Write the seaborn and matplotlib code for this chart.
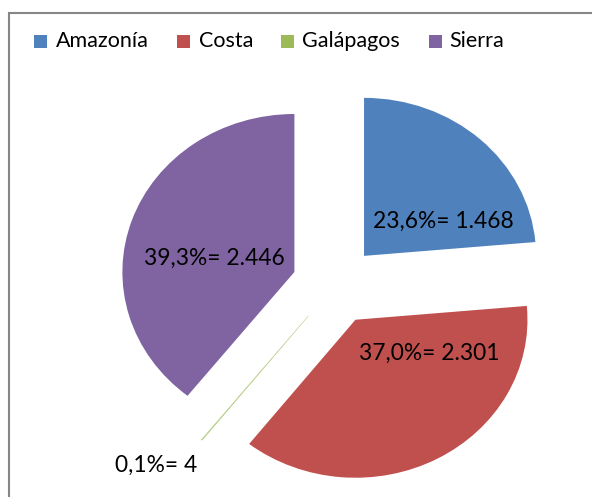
import matplotlib
matplotlib.use("Agg")
import matplotlib.pyplot as plt
import seaborn as sns
from matplotlib.patches import Rectangle

sns.set_theme(style="white")
plt.rcParams['font.family'] = ['Lato', 'DejaVu Sans']

regions = ["Amazonía", "Costa", "Galápagos", "Sierra"]
values = [1468, 2301, 4, 2446]
labels = ["23,6%= 1.468", "37,0%= 2.301", "0,1%= 4", "39,3%= 2.446"]
colors = ["#4F81BD", "#C0504D", "#9BBB59", "#8064A2"]
explode = [0.25, 0.25, 0.25, 0.25]
label_pos = [(0.63, 0.40), (0.55, -0.43), (-1.04, -1.14), (-0.70, 0.17)]

W, H = 592, 497
fig = plt.figure(figsize=(W / 100, H / 100), dpi=100)
ax = fig.add_axes([0, 0, 1, 1])

wedges, _ = ax.pie(values, colors=colors, explode=explode, startangle=90,
                   counterclock=False, wedgeprops=dict(linewidth=0))
wedges[2].set_edgecolor("#B9CF8A")
wedges[2].set_linewidth(0.4)

cx, cy, rx, ry = 335, 285, 172, 158
xmin = -cx / rx
ymin = -(H - cy) / ry
ax.set_aspect('auto')
ax.set_xlim(xmin, xmin + W / rx)
ax.set_ylim(ymin, ymin + H / ry)
ax.axis('off')

for (x, y), t in zip(label_pos, labels):
    ax.text(x, y, t, ha='center', va='center', fontsize=16.4, color='black')

# chart border
fig.patches.append(Rectangle((9 / W, -0.05), 1.2, (H - 13) / H + 0.05,
                             transform=fig.transFigure, fill=False,
                             edgecolor='#868686', linewidth=1.5))

# legend (manual, Excel-like layout)
sq_x = [34, 177, 281, 429]
txt_x = [56, 199, 302, 449]
leg_y = 41
for c, r, sx, tx in zip(colors, regions, sq_x, txt_x):
    fig.patches.append(Rectangle((sx / W, 1 - (leg_y + 6.5) / H), 13 / W, 13 / H,
                                 transform=fig.transFigure, facecolor=c,
                                 edgecolor='none'))
    fig.text(tx / W, 1 - leg_y / H, r, ha='left', va='center', fontsize=15.5,
             color='black')

fig.savefig("out.png", dpi=100)
